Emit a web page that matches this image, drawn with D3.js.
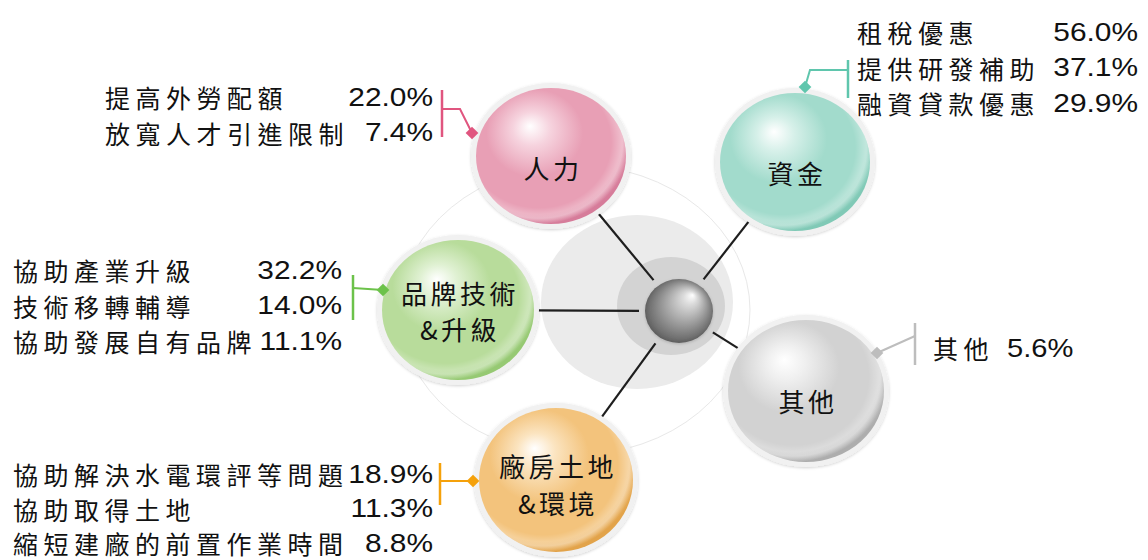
<!DOCTYPE html>
<html><head><meta charset="utf-8">
<script src="https://cdn.jsdelivr.net/npm/d3@7"></script>
<style>body{margin:0;background:#fff}svg{display:block}</style>
</head><body>
<svg id="c" width="1148" height="560"></svg>
<script>
// ---------- data ----------
const categories = ["人力", "資金", "品牌技術&升級", "其他", "廠房土地&環境"];
const categoryLines = [["人力"], ["資金"], ["品牌技術", "&升級"], ["其他"], ["廠房土地", "&環境"]];
const itemNames = [
  ["提高外勞配額", "放寬人才引進限制"],
  ["租稅優惠", "提供研發補助", "融資貸款優惠"],
  ["協助產業升級", "技術移轉輔導", "協助發展自有品牌"],
  ["其他"],
  ["協助解決水電環評等問題", "協助取得土地", "縮短建廠的前置作業時間"]
];
const itemValues = [
  [22.0, 7.4],
  [56.0, 37.1, 29.9],
  [32.2, 14.0, 11.1],
  [5.6],
  [18.9, 11.3, 8.8]
];

// ---------- styles ----------
const baseColors  = ["#e89fb5", "#a2dbcc", "#b8dc9b", "#d2d2d2", "#f3c37c"];
const lightColors = ["#f6d3de", "#d6f0e9", "#e0f1d3", "#efefef", "#fbe4c0"];
const darkColors  = ["#d67c9a", "#80c9b6", "#96c973", "#adadad", "#e2a34a"];
const accentColors = ["#e0557f", "#5fc6ad", "#6cc24a", "#bdbdbd", "#f5a10a"];

// ---------- layout ----------
const hub = { cx: 679, cy: 311, r: 33 };
const layout = [
  { cx: 551, cy: 156, rx: 75, ry: 68, ly: [167], list: { x: 105, right: 433, y0: 97 },
    bar: { x: 442, y1: 90, y2: 137 }, path: [[442, 109], [460, 109], [472, 133]] },
  { cx: 795, cy: 162, rx: 75, ry: 69, ly: [172], list: { x: 857, right: 1138, y0: 32 },
    bar: { x: 848, y1: 60, y2: 98 }, path: [[848, 70], [810, 70], [805, 87]] },
  { cx: 458, cy: 310, rx: 76, ry: 70, ly: [292, 328], list: { x: 13, right: 342, y0: 270 },
    bar: { x: 353, y1: 275, y2: 320 }, path: [[353, 288], [383, 290]] },
  { cx: 806, cy: 391, rx: 78, ry: 71, ly: [400], list: { x: 933, inline: true, y0: 348 },
    bar: { x: 915, y1: 323, y2: 365 }, path: [[915, 336], [877, 353]] },
  { cx: 556, cy: 480, rx: 77, ry: 72, ly: [465, 502], list: { x: 13, right: 433, y0: 474, gap: 34.5 },
    bar: { x: 440, y1: 463, y2: 505 }, path: [[440, 481], [473, 481]] }
];
const rowGap = 35.5;

const color = d3.scaleOrdinal().domain(categories).range(baseColors);
const fmt = d => d3.format(".1f")(d) + "%";
const CJK = "'Noto Sans CJK TC','Noto Sans CJK SC',sans-serif";
const NUM = "'Liberation Sans',Arial,sans-serif";

const svg = d3.select("#c");
const defs = svg.append("defs");

// gradients
categories.forEach((c, i) => {
  const g = defs.append("radialGradient").attr("id", "g" + i)
    .attr("cx", "42%").attr("cy", "38%").attr("r", "62%")
    .attr("fx", "36%").attr("fy", "28%");
  g.append("stop").attr("offset", "0%").attr("stop-color", "#ffffff");
  g.append("stop").attr("offset", "20%").attr("stop-color", lightColors[i]);
  g.append("stop").attr("offset", "52%").attr("stop-color", color(c));
  g.append("stop").attr("offset", "90%").attr("stop-color", color(c));
  g.append("stop").attr("offset", "100%").attr("stop-color", darkColors[i]);
  const s = defs.append("radialGradient").attr("id", "s" + i)
    .attr("cx", "42%").attr("cy", "40%").attr("r", "60%");
  s.append("stop").attr("offset", "80%").attr("stop-color", "#fff").attr("stop-opacity", 0);
  s.append("stop").attr("offset", "93%").attr("stop-color", "#fff").attr("stop-opacity", 0.35);
  s.append("stop").attr("offset", "100%").attr("stop-color", "#fff").attr("stop-opacity", 0);
});
const hg = defs.append("radialGradient").attr("id", "hubg")
  .attr("cx", "50%").attr("cy", "50%").attr("r", "55%").attr("fx", "70%").attr("fy", "25%");
hg.append("stop").attr("offset", "0%").attr("stop-color", "#ffffff");
hg.append("stop").attr("offset", "18%").attr("stop-color", "#dcdcdc");
hg.append("stop").attr("offset", "55%").attr("stop-color", "#a0a0a0");
hg.append("stop").attr("offset", "85%").attr("stop-color", "#707070");
hg.append("stop").attr("offset", "100%").attr("stop-color", "#525252");
const sh = defs.append("filter").attr("id", "sh").attr("x", "-20%").attr("y", "-20%").attr("width", "140%").attr("height", "140%");
sh.append("feDropShadow").attr("dx", 0).attr("dy", 1).attr("stdDeviation", 1.5).attr("flood-color", "#000").attr("flood-opacity", 0.18);

// faint outer ring and halos
svg.append("ellipse").attr("cx", 575).attr("cy", 310).attr("rx", 175).attr("ry", 145)
  .attr("fill", "none").attr("stroke", "#e8e8e8").attr("stroke-width", 1);
svg.append("ellipse").attr("cx", 637).attr("cy", 302).attr("rx", 96).attr("ry", 87).attr("fill", "#ebebeb");
svg.append("ellipse").attr("cx", 671).attr("cy", 306).attr("rx", 54).attr("ry", 49).attr("fill", "#d3d3d3");

// connectors
const linkData = layout.map(d => {
  const dx = d.cx - hub.cx, dy = d.cy - hub.cy, L = Math.hypot(dx, dy);
  const ux = dx / L, uy = dy / L;
  const t = 1 / Math.sqrt((ux * ux) / (d.rx * d.rx) + (uy * uy) / (d.ry * d.ry));
  return { x1: hub.cx + ux * 40, y1: hub.cy + uy * 40, x2: d.cx - ux * t, y2: d.cy - uy * t };
});
svg.selectAll("line.link").data(linkData).join("line").attr("class", "link")
  .attr("x1", d => d.x1).attr("y1", d => d.y1).attr("x2", d => d.x2).attr("y2", d => d.y2)
  .attr("stroke", "#1e1e1e").attr("stroke-width", 2.2);

// hub sphere
svg.append("ellipse").attr("cx", hub.cx).attr("cy", hub.cy).attr("rx", 34).attr("ry", 32)
  .attr("fill", "url(#hubg)").attr("filter", "url(#sh)");

// bubbles
const bub = svg.selectAll("g.bub").data(layout).join("g").attr("class", "bub");
bub.append("ellipse").attr("cx", d => d.cx).attr("cy", d => d.cy)
  .attr("rx", d => d.rx + 5).attr("ry", d => d.ry + 5)
  .attr("fill", "#f1f1f1").attr("filter", "url(#sh)");
bub.append("ellipse").attr("cx", d => d.cx).attr("cy", d => d.cy)
  .attr("rx", d => d.rx).attr("ry", d => d.ry)
  .attr("fill", (d, i) => "url(#g" + i + ")");
bub.append("ellipse").attr("cx", d => d.cx).attr("cy", d => d.cy)
  .attr("rx", d => d.rx).attr("ry", d => d.ry)
  .attr("fill", (d, i) => "url(#s" + i + ")");
bub.each(function (d, i) {
  const g = d3.select(this);
  categoryLines[i].forEach((t, k) => {
    g.append("text").attr("x", d.cx + 2).attr("y", d.ly[k])
      .attr("text-anchor", "middle").attr("dominant-baseline", "central")
      .attr("font-family", CJK).attr("font-size", 26).attr("letter-spacing", 3.5)
      .attr("fill", "#111").text(t);
  });
});

// callouts
layout.forEach((d, i) => {
  const c = accentColors[i];
  svg.append("line").attr("x1", d.bar.x).attr("x2", d.bar.x).attr("y1", d.bar.y1).attr("y2", d.bar.y2)
    .attr("stroke", c).attr("stroke-width", 2.5);
  svg.append("path").attr("d", d3.line()(d.path)).attr("fill", "none").attr("stroke", c).attr("stroke-width", 2);
  const p = d.path[d.path.length - 1];
  svg.append("rect").attr("x", p[0] - 4.5).attr("y", p[1] - 4.5).attr("width", 9).attr("height", 9)
    .attr("fill", c).attr("transform", `rotate(45,${p[0]},${p[1]})`);
});

// item lists
layout.forEach((d, i) => {
  const gap = d.list.gap || rowGap;
  itemNames[i].forEach((name, k) => {
    const y = d.list.y0 + k * gap;
    svg.append("text").attr("x", d.list.x).attr("y", y).attr("dominant-baseline", "central")
      .attr("font-family", CJK).attr("font-size", 25).attr("letter-spacing", 5.5)
      .attr("fill", "#111").text(name);
    const v = fmt(itemValues[i][k]);
    if (d.list.inline) {
      svg.append("text").attr("transform", `translate(1007,${y}) scale(1.12,1)`)
        .attr("dominant-baseline", "central").attr("font-family", NUM).attr("font-size", 26)
        .attr("fill", "#111").text(v);
    } else {
      svg.append("text").attr("transform", `translate(${d.list.right},${y}) scale(1.15,1)`)
        .attr("text-anchor", "end").attr("dominant-baseline", "central")
        .attr("font-family", NUM).attr("font-size", 26).attr("fill", "#111").text(v);
    }
  });
});
</script>
</body></html>
